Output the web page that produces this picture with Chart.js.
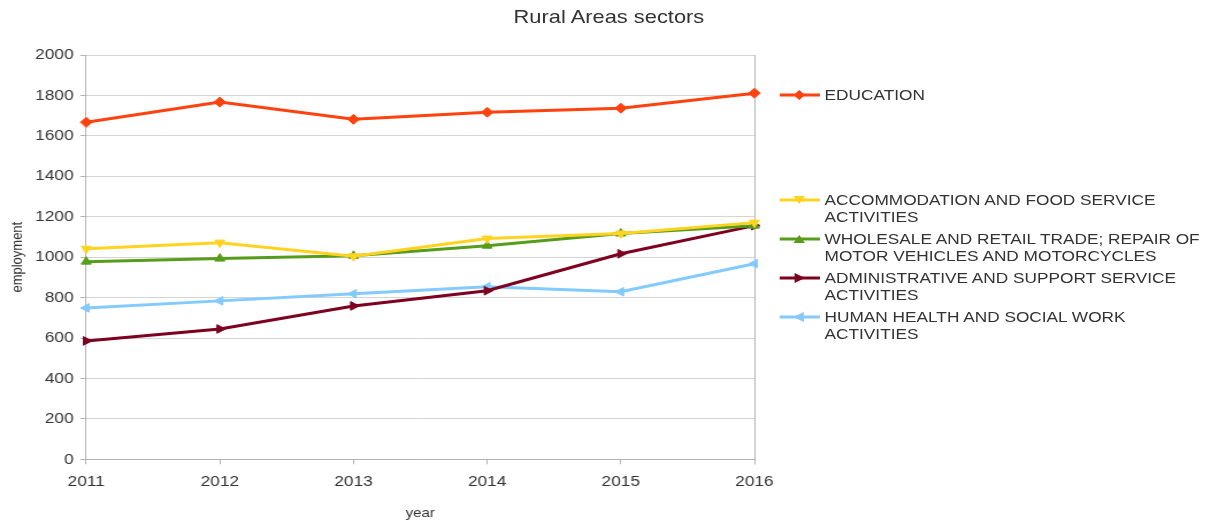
<!DOCTYPE html>
<html>
<head>
<meta charset="utf-8">
<script src="https://cdn.jsdelivr.net/npm/chart.js@4/dist/chart.umd.min.js"></script>
<style>
  html, body { margin: 0; padding: 0; background: #fff; overflow: hidden; }
  /* the source picture is stretched horizontally, so the whole drawing is too */
  #wrap { position: relative; width: 1059px; height: 525px; transform: scaleX(1.15); transform-origin: 0 0; }
  #chart { position: absolute; left: 0; top: 0; }
  #title { position: absolute; left: 0; width: 1059px; top: 6px; text-align: center;
           font-family: "Liberation Sans", Arial, sans-serif; font-size: 19px; color: #333; }
  .legend { font-family: "Liberation Sans", Arial, sans-serif; font-size: 15px; color: #333; line-height: 17px; }
  .legend .item { position: absolute; white-space: nowrap; left: 717px; }
  .legend svg { position: absolute; left: -40px; top: 0; }
</style>
</head>
<body>
<div id="wrap">
  <canvas id="chart" width="1059" height="525"></canvas>
  <div id="title">Rural Areas sectors</div>
  <div class="legend" id="legend"></div>
</div>
<script>
// ── Data ───────────────────────────────────────────────────────────────────
const years = ["2011", "2012", "2013", "2014", "2015", "2016"];

const education      = [1667, 1767, 1682, 1717, 1737, 1811];
const accommodation  = [1042, 1072, 1005, 1092, 1117, 1171];
const wholesale      = [978, 993, 1007, 1057, 1117, 1156];
const administrative = [586, 645, 759, 834, 1017, 1156];
const humanHealth    = [749, 784, 819, 854, 829, 968];

const yTicks = [0, 200, 400, 600, 800, 1000, 1200, 1400, 1600, 1800, 2000];

// LibreOffice default palette
const series = [
  { label: ["EDUCATION"], data: education, color: "#ff420e", style: "rectRot", rot: 0, top: 86 },
  { label: ["ACCOMMODATION AND FOOD SERVICE", "ACTIVITIES"], data: accommodation, color: "#ffd320", style: "triangle", rot: 180, top: 191 },
  { label: ["WHOLESALE AND RETAIL TRADE; REPAIR OF", "MOTOR VEHICLES AND MOTORCYCLES"], data: wholesale, color: "#579d1c", style: "triangle", rot: 0, top: 230 },
  { label: ["ADMINISTRATIVE AND SUPPORT SERVICE", "ACTIVITIES"], data: administrative, color: "#7e0021", style: "triangle", rot: 90, top: 269 },
  { label: ["HUMAN HEALTH AND SOCIAL WORK", "ACTIVITIES"], data: humanHealth, color: "#83caff", style: "triangle", rot: -90, top: 308 },
];

const font = "'Liberation Sans', Arial, sans-serif";
const axisGrey = "#b3b3b3";

new Chart(document.getElementById("chart"), {
  type: "line",
  data: {
    labels: years,
    datasets: series.map(s => ({
      label: s.label.join(" "),
      data: s.data,
      borderColor: s.color,
      backgroundColor: s.color,
      borderWidth: 3,
      tension: 0,
      pointStyle: s.style,
      pointRotation: s.rot,
      pointRadius: 5,
      pointHoverRadius: 5,
      pointBorderWidth: 1,
    })),
  },
  options: {
    responsive: false,
    animation: false,
    layout: { padding: { left: 5, right: 403, top: 55, bottom: 4 } },
    scales: {
      x: {
        offset: false,
        grid: {
          // only the right-hand edge gets a vertical line, like the source
          color: c => (c.index === years.length - 1 ? axisGrey : "rgba(0,0,0,0)"),
          tickColor: axisGrey, tickLength: 5,
        },
        border: { color: axisGrey, width: 1 },
        ticks: { color: "#333", font: { family: font, size: 15 }, maxRotation: 0, padding: 8 },
        title: { display: true, text: "year", color: "#333", font: { family: font, size: 13 }, padding: { top: 7, bottom: 0 } },
      },
      y: {
        min: 0, max: 2000,
        afterBuildTicks: axis => { axis.ticks = yTicks.map(v => ({ value: v })); },
        grid: { color: "#d4d4d4", tickColor: axisGrey, lineWidth: 1, tickLength: 5 },
        border: { color: axisGrey, width: 1 },
        ticks: { color: "#333", font: { family: font, size: 15 }, padding: 6, callback: v => String(v) },
        title: { display: true, text: "employment", color: "#333", font: { family: font, size: 13 }, padding: { top: 3, bottom: 1 } },
      },
    },
    plugins: {
      legend: { display: false },
      tooltip: { enabled: false },
    },
  },
});

// ── HTML legend on the right ───────────────────────────────────────────────
function markerPath(s) {
  const c = 9, r = 5;
  if (s.style === "rectRot") return `M18 ${c - r} L${18 + r} ${c} L18 ${c + r} L${18 - r} ${c} Z`;
  const pts = { 180: [[13, 5], [23, 5], [18, 13]], 0: [[13, 13], [23, 13], [18, 5]],
                90: [[14, 4], [14, 14], [23, 9]], "-90": [[22, 4], [22, 14], [13, 9]] }[s.rot];
  return "M" + pts.map(p => p.join(" ")).join(" L") + " Z";
}
const legendEl = document.getElementById("legend");
series.forEach(s => {
  const item = document.createElement("div");
  item.className = "item";
  item.style.top = s.top + "px";
  item.innerHTML =
    `<svg width="38" height="18"><line x1="1" y1="9" x2="36" y2="9" stroke="${s.color}" stroke-width="3"/>` +
    `<path d="${markerPath(s)}" fill="${s.color}"/></svg>` + s.label.join("<br>");
  legendEl.appendChild(item);
});
</script>
</body>
</html>
